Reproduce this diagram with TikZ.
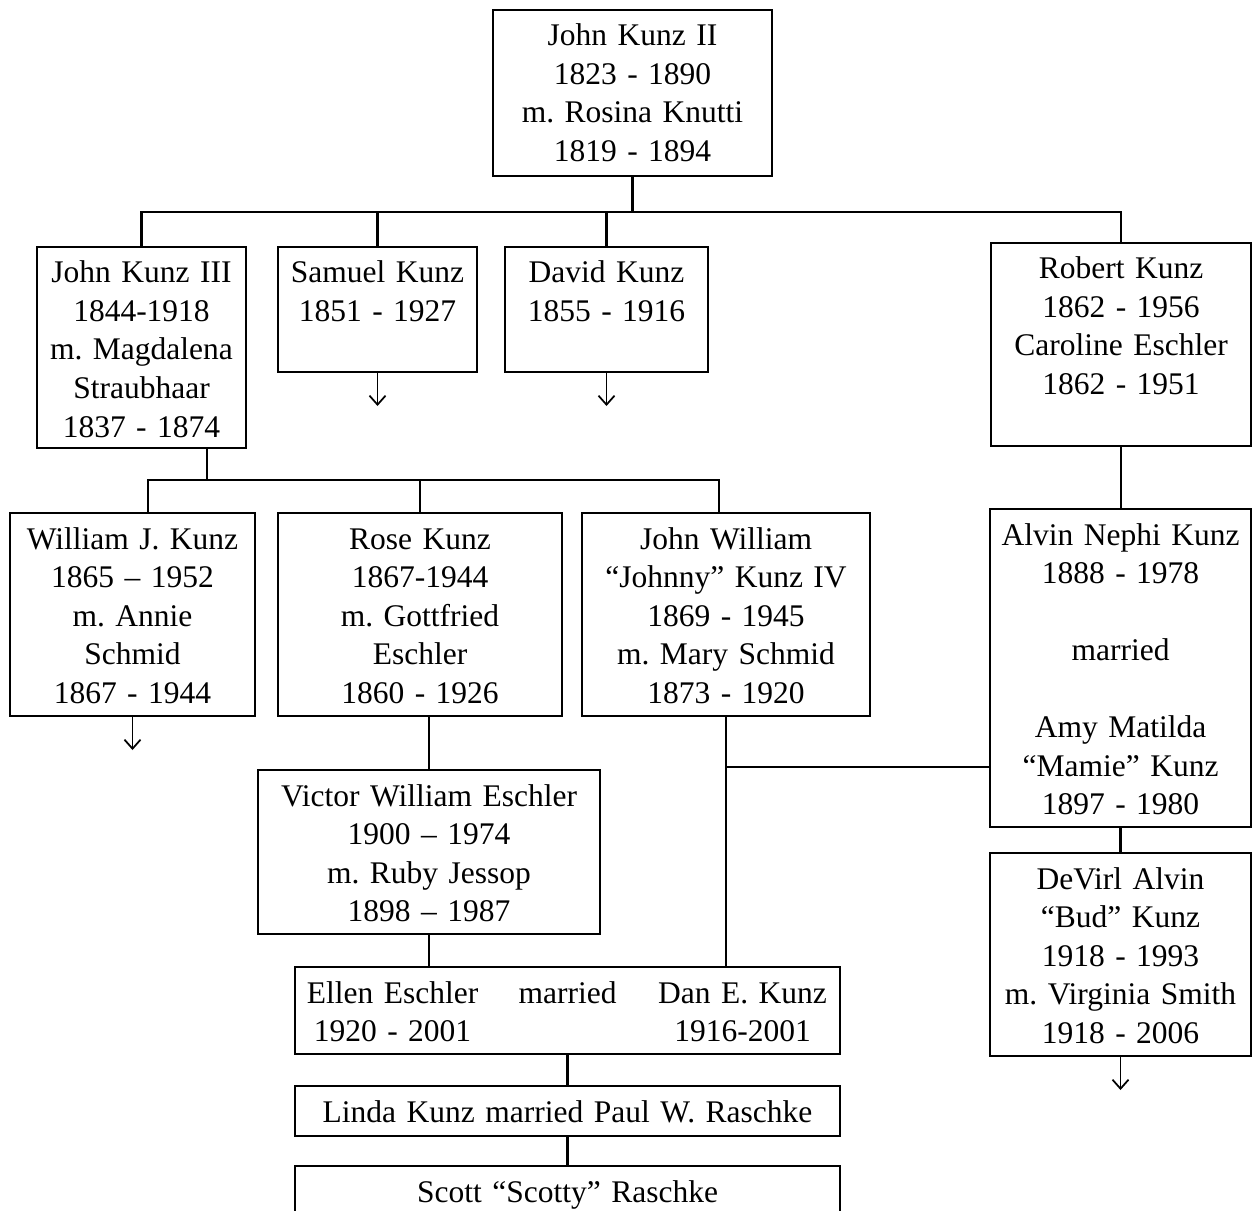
\documentclass[tikz,border=0pt]{standalone}
\usepackage{fontspec}
\setmainfont{Liberation Serif}
\usepackage{tikz}
\usetikzlibrary{positioning,calc,arrows.meta}
\tikzstyle{person}=[draw, line width=1.1pt, inner sep=0pt, outer sep=0pt, align=center,
anchor=north west, text height=14.4pt, font=\fontsize{12.6pt}{15.4pt}\selectfont\frenchspacing]
\tikzstyle{line}=[line width=1pt]
\tikzstyle{myarrow}=[-{Straight Barb[length=3.6pt,width=6.4pt]}, line width=0.7pt]

\begin{document}
\begin{tikzpicture}[x=0.4pt,y=-0.4pt]
	\useasboundingbox (0,0) rectangle (1252,1211);
	\clip (0,0) rectangle (1252,1211);

	% first generation
	\node[person, text width=111.6pt, text depth=52pt] (jk2) at (493,10) {John Kunz II\\1823 - 1890\\m. Rosina Knutti\\1819 - 1894};

	% children of John Kunz II
	\node[person, text width=83.6pt, text depth=66pt] (jk3) at (37,247) {John Kunz III\\1844-1918\\m. Magdalena\\Straubhaar\\1837 - 1874};
	\node[person, text width=79.6pt, text depth=35.6pt, right=12.8pt of jk3.north east, anchor=north west] (sam) {Samuel Kunz\\1851 - 1927};
	\node[person, text width=81.2pt, text depth=35.6pt, right=11.2pt of sam.north east, anchor=north west] (dav) {David Kunz\\1855 - 1916};
	\node[person, text width=104pt, text depth=66.8pt] (rob) at (991,243) {Robert Kunz\\1862 - 1956\\Caroline Eschler\\1862 - 1951};

	\coordinate (bus1) at (632,212);
	\draw[line] (jk2.south) -- (jk2.south |- bus1);
	\draw[line] (jk3.north) -- (jk3.north |- bus1) -- (rob.north |- bus1) -- (rob.north);
	\draw[line] (sam.north) -- (sam.north |- bus1);
	\draw[line] (dav.north) -- (dav.north |- bus1);
	\draw[myarrow] (sam.south) -- ++(0,34);
	\draw[myarrow] (dav.south) -- ++(0,34);

	% children of John Kunz III
	\node[person, text width=98pt, text depth=66.8pt] (wil) at (10,513) {William J. Kunz\\1865 – 1952\\m. Annie\\Schmid\\1867 - 1944};
	\node[person, text width=113.6pt, text depth=66.8pt] (rose) at (278,513) {Rose Kunz\\1867-1944\\m. Gottfried\\Eschler\\1860 - 1926};
	\node[person, text width=115.2pt, text depth=66.8pt] (jw) at (582,513) {John William\\“Johnny” Kunz IV\\1869 - 1945\\m. Mary Schmid\\1873 - 1920};

	\coordinate (b2m) at (207,480);
	\coordinate (b2l) at (148,480);
	\coordinate (b2r) at (719,480);
	\draw[line] (jk3.south -| b2m) -- (b2m);
	\draw[line] (wil.north -| b2l) -- (b2l) -- (b2r) -- (jw.north -| b2r);
	\draw[line] (rose.north) -- (rose.north |- b2l);
	\draw[myarrow] (wil.south) -- ++(0,34);

	% Robert's line
	\node[person, text width=104.4pt, text depth=112.8pt] (alv) at (990,509) {Alvin Nephi Kunz\\1888 - 1978\\[15.4pt]married\\[15.4pt]Amy Matilda\\“Mamie” Kunz\\1897 - 1980};
	\node[person, text width=104.4pt, text depth=66.8pt] (dev) at (990,853) {DeVirl Alvin\\“Bud” Kunz\\1918 - 1993\\m. Virginia Smith\\1918 - 2006};
	\draw[line] (rob.south) -- (rob.south |- alv.north);
	\draw[line] (alv.south) -- (alv.south |- dev.north);
	\draw[myarrow] (dev.south) -- ++(0,34);

	% Rose's line
	\node[person, text width=136.8pt, text depth=51.2pt] (vic) at (258,770) {Victor William Eschler\\1900 – 1974\\m. Ruby Jessop\\1898 – 1987};
	\draw[line] (vic.north) -- (vic.north |- rose.south);

	\node[person, text width=218pt, text depth=20.4pt] (ell) at (295,967) {\makebox[72pt]{Ellen Eschler}\makebox[68pt]{married}\makebox[72pt]{Dan E. Kunz}\\\makebox[72pt]{1920 - 2001}\makebox[68pt]{}\makebox[72pt]{1916-2001}};
	\draw[line] (vic.south) -- (vic.south |- ell.north);
	\draw[line] (jw.south) -- (jw.south |- ell.north);
	\coordinate (mar) at (726,767);
	\draw[line] (mar) -- (mar -| alv.west);

	\node[person, text width=218pt, text depth=5.6pt, below=12.8pt of ell.south, anchor=north] (lin) {Linda Kunz married Paul W. Raschke};
	\draw[line] (ell.south) -- (lin.north);

	\node[person, text width=218pt, text depth=11.2pt, below=12pt of lin.south, anchor=north] (sco) {Scott “Scotty” Raschke};
	\draw[line] (lin.south) -- (sco.north);
\end{tikzpicture}
\end{document}
